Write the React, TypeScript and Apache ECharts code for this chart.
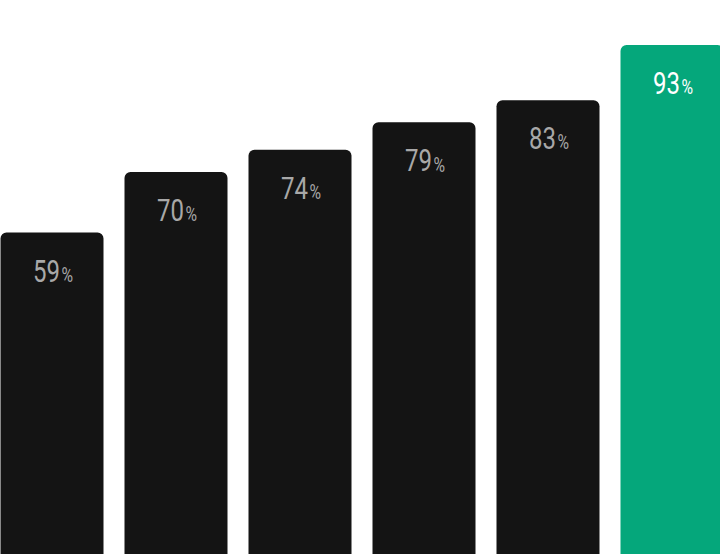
import React, { useEffect, useRef } from "react";
import * as echarts from "echarts";
import type { EChartsType } from "echarts";

const categories = ["A", "B", "C", "D", "E", "F"];
const values = [59, 70, 74, 79, 83, 93];
const highlightIndex = 5;

const DARK = "#141414";
const GREEN = "#05a77b";
const FONT = "Roboto, sans-serif";

const App: React.FC = () => {
  const chartRef = useRef<HTMLDivElement>(null);

  useEffect(() => {
    if (!chartRef.current) return;
    const myChart: EChartsType = echarts.init(chartRef.current, undefined, {
      renderer: "svg",
    });

    const option = {
      animation: false,
      grid: { left: 0, right: 0, top: 6.4, bottom: 0 },
      xAxis: {
        type: "category" as const,
        data: categories,
        show: false,
      },
      yAxis: { type: "value" as const, min: 0, max: 100, show: false },
      series: [
        {
          type: "bar",
          barWidth: 103,
          data: values.map((v, i) => ({
            value: v,
            itemStyle: {
              color: i === highlightIndex ? GREEN : DARK,
              borderRadius: [6, 6, 0, 0],
            },
          })),
        },
      ],
    };

    myChart.setOption(option);

    // value labels: placed through the chart's own scales, squeezed to look condensed
    const labels = values.map((v, i) => {
      const pt = myChart.convertToPixel({ gridIndex: 0 }, [i, v]) as number[];
      const color = i === highlightIndex ? "#ffffff" : "#a8a8a8";
      return {
        type: "text" as const,
        x: pt[0] + 1,
        y: pt[1] + 38.5,
        scaleX: 0.75,
        z: 10,
        style: {
          text: `{n|${v}}{p|%}`,
          align: "center",
          verticalAlign: "middle",
          rich: {
            n: { fontFamily: FONT, fontSize: 32, fill: color },
            p: { fontFamily: FONT, fontSize: 21, fill: color, padding: [8, 0, 0, 2] },
          },
        },
      };
    });
    myChart.setOption({ graphic: labels });

    return () => myChart.dispose();
  }, []);

  return (
    <div
      style={{ position: "fixed", left: 0, top: 0, width: 720, height: 554, overflow: "hidden", background: "#ffffff" }}
    >
      <div
        ref={chartRef}
        style={{ position: "absolute", left: -10.5, top: 0, width: 744, height: 558.4 }}
      ></div>
    </div>
  );
};

export default App;
